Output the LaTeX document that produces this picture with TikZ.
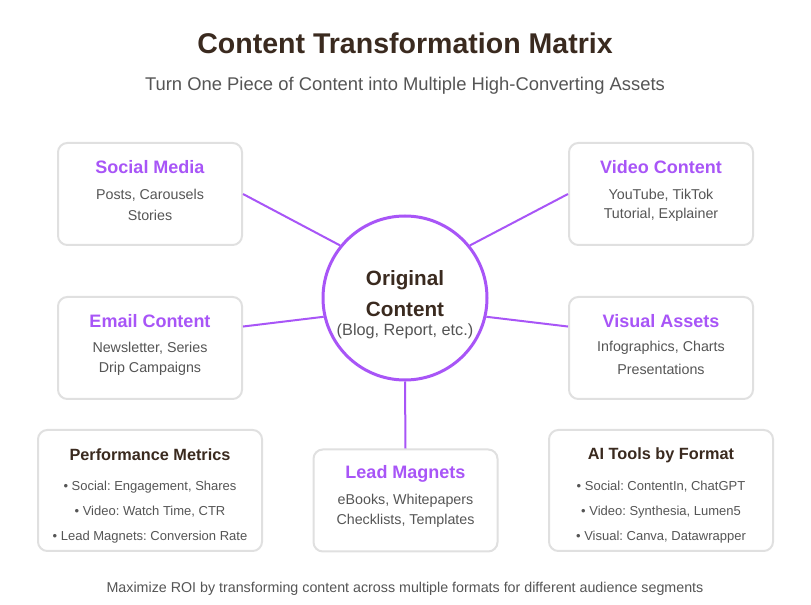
\documentclass[tikz,border=0pt]{standalone}
\usepackage{fontspec}
\setmainfont{Liberation Sans}
\usetikzlibrary{positioning}
\definecolor{purp}{HTML}{A855F7}
\definecolor{headbrown}{HTML}{3A2A1F}
\definecolor{bodygray}{HTML}{555555}
\definecolor{edgegray}{HTML}{E0E0E0}
\frenchspacing

\begin{document}
\begin{tikzpicture}[x=0.75pt,y=-0.75pt,
    card/.style={draw=edgegray,line width=1.5pt,rounded corners=7pt,fill=white,minimum width=138pt,minimum height=76.5pt,inner sep=0pt},
    widecard/.style={card,minimum width=168pt,minimum height=90.75pt},
    link/.style={draw=purp,line width=1.5pt},
    cardtitle/.style={text=purp,font=\fontsize{13.5}{16}\selectfont\bfseries,inner sep=0pt},
    boxtitle/.style={text=headbrown,font=\fontsize{12.2}{14}\selectfont\bfseries,inner sep=0pt},
    cardtext/.style={text=bodygray,font=\fontsize{10.7}{13}\selectfont,inner sep=0pt},
    bullet/.style={text=bodygray,font=\fontsize{9.75}{12}\selectfont,inner sep=0pt}]
  \useasboundingbox[fill=white] (0,0) rectangle (811,605);

  % headings
  \node[text=headbrown,font=\fontsize{21.4}{25}\selectfont\bfseries] (title) at (405,43) {Content Transformation Matrix};
  \node[text=bodygray,font=\fontsize{13.8}{16}\selectfont] (subtitle) at (405,86) {Turn One Piece of Content into Multiple High-Converting Assets};

  % centre
  \node[circle,draw=purp,line width=2.25pt,fill=white,minimum size=123pt] (orig) at (405,298) {};
  \node[text=headbrown,font=\fontsize{15.5}{18}\selectfont\bfseries,inner sep=0pt] (origA) at (405,280) {Original};
  \node[text=headbrown,font=\fontsize{15.5}{18}\selectfont\bfseries,inner sep=0pt] (origB) at (405,309) {Content};
  \node[text=bodygray,font=\fontsize{12.2}{14}\selectfont,inner sep=0pt] (origC) at (405,331) {(Blog, Report, etc.)};

  % format cards
  \node[card] (social) at (150,194) {};
  \node[cardtitle] (socialT) at (150,167) {Social Media};
  \node[cardtext] (socialA) at (150,195) {Posts, Carousels};
  \node[cardtext] (socialB) at (150,215) {Stories};

  \node[card] (video) at (661,194) {};
  \node[cardtitle] (videoT) at (661,167) {Video Content};
  \node[cardtext] (videoA) at (661,195) {YouTube, TikTok};
  \node[cardtext] (videoB) at (661,215) {Tutorial, Explainer};

  \node[card] (email) at (150,348) {};
  \node[cardtitle] (emailT) at (150,321) {Email Content};
  \node[cardtext] (emailA) at (150,348) {Newsletter, Series};
  \node[cardtext] (emailB) at (150,369) {Drip Campaigns};

  \node[card] (visual) at (661,348) {};
  \node[cardtitle] (visualT) at (661,321) {Visual Assets};
  \node[cardtext] (visualA) at (661,348) {Infographics, Charts};
  \node[cardtext] (visualB) at (661,369) {Presentations};

  \node[card] (lead) at (405.5,500.5) {};
  \node[cardtitle] (leadT) at (405.5,474) {Lead Magnets};
  \node[cardtext] (leadA) at (405.5,501) {eBooks, Whitepapers};
  \node[cardtext] (leadB) at (405.5,521) {Checklists, Templates};

  % side panels
  \node[widecard] (metrics) at (150,490.5) {};
  \node[boxtitle] (metricsT) at (150,455) {Performance Metrics};
  \node[bullet] (metricsA) at (150,487) {• Social: Engagement, Shares};
  \node[bullet] (metricsB) at (150,512) {• Video: Watch Time, CTR};
  \node[bullet] (metricsC) at (150,537) {• Lead Magnets: Conversion Rate};

  \node[widecard] (tools) at (661,490.5) {};
  \node[boxtitle] (toolsT) at (661,455) {AI Tools by Format};
  \node[bullet] (toolsA) at (661,487) {• Social: ContentIn, ChatGPT};
  \node[bullet] (toolsB) at (661,512) {• Video: Synthesia, Lumen5};
  \node[bullet] (toolsC) at (661,537) {• Visual: Canva, Datawrapper};

  % connectors
  \draw[link] (social.east) -- (orig.141);
  \draw[link] (video.west) -- (orig.39);
  \draw[link] (email.13) -- (orig.193);
  \draw[link] (visual.167) -- (orig.-13);
  \draw[link] (orig.south) -- (lead.north);

  \node[text=bodygray,font=\fontsize{10.7}{13}\selectfont] (footer) at (405,589) {Maximize ROI by transforming content across multiple formats for different audience segments};
\end{tikzpicture}
\end{document}
